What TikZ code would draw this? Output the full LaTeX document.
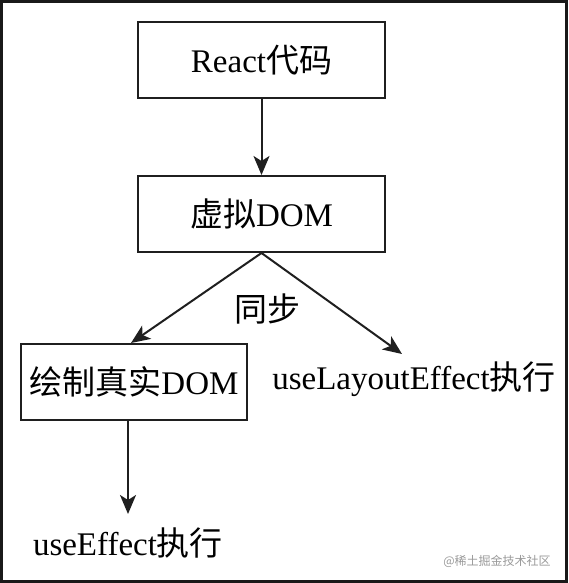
\documentclass[tikz,border=0pt]{standalone}
\usepackage{fontspec}
\setmainfont{Liberation Serif}
\newfontfamily\cjk{Noto Sans CJK SC}
\usetikzlibrary{arrows.meta}
\newcommand\zh[1]{{\cjk #1}}

\begin{document}
\begin{tikzpicture}[x=1pt, y=-1pt,
	box/.style={draw=black!88, line width=2pt, minimum width=247pt, minimum height=76pt, inner sep=0pt, font=\fontsize{33}{40}\selectfont},
	lbl/.style={inner sep=0pt, font=\fontsize{33}{40}\selectfont},
	arr/.style={draw=black!88, line width=2pt, -{Stealth[length=19pt, width=16pt, inset=5pt]}}]
			%%%%% START %%%%%
			
			\useasboundingbox (0, 0) rectangle (568, 583);
			\draw[line width=3pt, color=black!90] (1.5, 1.5) rectangle (566.5, 581.5);
			
			\node[box] (react) at (261.5, 60) {React\zh{代码}};
			\node[box] (vdom) at (261.5, 214) {\zh{虚拟}DOM};
			\node[box, minimum width=226pt] (real) at (134, 382) {\zh{绘制真实}DOM};
			
			\node[lbl] (sync) at (267, 309) {\zh{同步}};
			\node[lbl] (layout) at (414, 379) {useLayoutEffect\zh{执行}};
			\node[lbl] (effect) at (128, 543) {useEffect\zh{执行}};
			
			\coordinate (realtop) at (131, 343);
			\coordinate (layouttop) at (402, 354);
			
			\draw[arr] (react) -- (vdom);
			\draw[arr] (vdom.south) -- (realtop);
			\draw[arr] (vdom.south) -- (layouttop);
			\draw[arr] (real.south -| effect) -- (128, 514);
			
			\node[color=black!40, font=\cjk\fontsize{12}{14}\selectfont, inner sep=0pt] (mark) at (497, 561) {@稀土掘金技术社区};
			
			%%%%% END %%%%%
\end{tikzpicture}
\end{document}
